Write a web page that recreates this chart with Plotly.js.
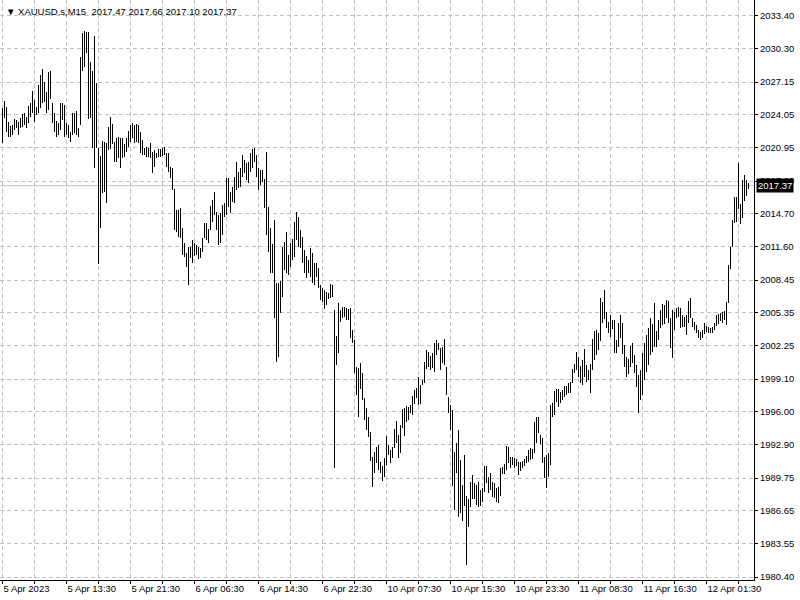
<!DOCTYPE html>
<html>
<head>
<meta charset="utf-8">
<script src="https://cdn.plot.ly/plotly-3.0.1.min.js"></script>
<style>html,body{margin:0;padding:0;background:#fff;}#chart{width:800px;height:600px;}</style>
</head>
<body>
<div id="chart"></div>
<script>
// ---- data (M15 bars, high / low) ----
const symbol = "XAUUSD.s";
const timeframe = "M15";
const lastOpen = 2017.47, lastHigh = 2017.66, lastLow = 2017.10, lastClose = 2017.37;

const highs = [
2024.70,2025.37,2024.80,2023.38,2023.00,2023.10,2023.66,2023.57,2023.38,2023.76,
2024.14,2024.23,2023.85,2024.89,2025.18,2026.31,2025.46,2024.80,2026.88,2027.82,
2028.39,2027.16,2026.22,2028.11,2028.20,2025.18,2024.23,2023.48,2023.29,2025.18,
2025.18,2024.99,2023.29,2023.10,2022.44,2024.23,2024.23,2024.42,2022.81,2029.52,
2031.79,2031.98,2031.89,2031.89,2029.05,2028.20,2031.51,2027.07,2020.92,2020.17,
2021.59,2021.49,2021.40,2022.91,2023.85,2023.19,2021.49,2021.87,2021.96,2021.87,
2021.87,2021.30,2021.87,2022.53,2023.10,2023.29,2023.10,2023.19,2023.10,2022.44,
2021.68,2020.92,2021.02,2020.92,2021.40,2020.55,2020.74,2020.45,2020.83,2020.83,
2020.92,2021.02,2020.45,2020.45,2019.13,2019.03,2017.05,2015.07,2015.07,2015.25,
2013.36,2011.95,2011.00,2011.57,2011.57,2012.23,2011.95,2011.76,2011.57,2011.48,
2012.42,2013.84,2013.84,2013.27,2015.44,2016.01,2016.77,2014.88,2014.59,2014.78,
2015.54,2015.73,2018.09,2018.09,2016.77,2017.24,2018.18,2019.60,2018.65,2019.03,
2020.26,2019.79,2019.51,2019.60,2020.45,2020.83,2020.92,2020.26,2019.03,2018.85,
2018.85,2018.00,2020.55,2015.35,2013.36,2011.85,2014.12,2008.17,2008.17,2008.36,
2011.57,2012.04,2012.99,2010.81,2011.95,2012.32,2013.93,2014.88,2014.40,2013.18,
2012.51,2011.28,2010.72,2010.34,2011.47,2011.00,2010.06,2010.06,2009.59,2007.98,
2007.69,2007.51,2007.32,2007.22,2008.07,2007.98,2005.62,2003.16,2006.28,2005.62,
2005.90,2005.90,2005.80,2005.71,2005.80,2003.73,2002.78,2000.23,2000.13,2000.61,
1999.66,1997.30,1996.35,1995.50,1994.09,1991.72,1992.20,1992.67,1992.86,1991.25,
1990.87,1991.63,1993.71,1992.86,1992.39,1992.67,1994.37,1995.13,1993.80,1994.75,
1996.26,1996.35,1996.54,1996.45,1996.64,1997.49,1998.06,1998.25,1999.28,1998.53,
1999.01,2000.70,2001.84,2001.65,2001.27,2001.55,2002.50,2002.78,2002.50,2002.02,
2002.12,2002.87,2000.23,1997.39,1996.64,1996.17,1992.20,1993.05,1994.27,1991.44,
1989.08,1991.91,1988.04,1987.75,1989.36,1990.02,1989.27,1989.08,1989.36,1988.61,
1988.79,1990.87,1990.87,1989.84,1990.21,1989.36,1989.27,1988.79,1988.89,1990.68,
1990.78,1991.06,1992.76,1992.67,1991.72,1991.72,1991.63,1991.53,1991.25,1991.25,
1991.35,1991.53,1991.82,1992.39,1992.57,1992.48,1995.03,1995.50,1995.50,1993.80,
1993.52,1991.72,1991.91,1992.10,1996.64,1996.83,1997.96,1998.15,1998.15,1997.87,
1998.06,1998.44,1998.44,1998.72,1998.82,2000.04,2000.51,2001.65,2001.18,2000.32,
2000.89,2001.93,2000.42,1999.94,2000.51,2002.87,2003.63,2003.73,2003.44,2006.75,
2006.37,2007.51,2005.43,2004.48,2005.14,2004.67,2004.67,2002.78,2004.39,2005.14,
2004.39,2002.31,2001.18,2000.99,2002.21,2002.50,2001.36,2000.42,1999.47,1999.94,
2001.55,2002.50,2003.25,2003.91,2004.86,2004.30,2006.28,2003.63,2004.67,2005.62,
2006.19,2006.09,2006.56,2006.47,2004.86,2005.62,2005.43,2005.80,2005.90,2005.80,
2005.14,2004.95,2005.14,2006.47,2006.75,2004.86,2004.48,2004.20,2003.73,2003.54,
2003.73,2004.39,2004.10,2004.01,2003.91,2004.01,2004.39,2005.14,2005.24,2005.33,
2005.43,2005.52,2006.37,2009.87,2011.57,2014.12,2016.29,2016.29,2019.51,2015.63,
2017.90,2018.37,2017.90,2017.66
];

const lows = [
2021.40,2023.76,2022.44,2021.96,2021.96,2022.15,2022.63,2022.81,2022.15,2022.81,
2022.91,2023.10,2022.81,2023.29,2023.85,2024.23,2023.38,2024.04,2024.23,2024.70,
2025.18,2025.27,2024.23,2024.52,2025.55,2023.29,2022.44,2021.96,2022.15,2022.63,
2023.57,2021.96,2022.15,2021.87,2021.49,2022.15,2022.34,2022.15,2021.96,2023.10,
2028.20,2028.58,2029.90,2023.66,2023.76,2020.92,2019.03,2020.92,2009.96,2013.36,
2016.67,2016.77,2015.73,2020.74,2020.83,2021.30,2019.60,2019.60,2019.98,2019.03,
2019.98,2020.07,2020.55,2021.02,2021.49,2021.87,2021.40,2021.49,2021.40,2020.45,
2020.26,2020.26,2020.07,2020.07,2019.98,2018.56,2019.13,2019.98,2020.07,2020.07,
2020.17,2020.26,2019.13,2018.65,2018.09,2016.96,2013.18,2012.99,2012.51,2012.42,
2010.81,2010.62,2009.68,2007.98,2010.53,2010.06,2010.72,2010.81,2010.43,2010.53,
2011.10,2012.42,2012.23,2011.95,2013.18,2013.93,2014.59,2013.18,2011.76,2011.95,
2012.70,2014.40,2014.59,2015.35,2014.78,2015.82,2015.73,2016.96,2017.14,2017.24,
2018.18,2018.56,2017.90,2017.62,2018.65,2019.03,2019.60,2018.18,2016.96,2017.43,
2017.71,2015.25,2012.70,2011.10,2009.11,2009.11,2004.86,2000.70,2001.18,2005.33,
2006.84,2009.40,2009.11,2008.92,2009.68,2010.34,2010.62,2012.23,2011.57,2011.47,
2010.06,2009.11,2008.64,2009.11,2008.73,2008.17,2007.98,2008.73,2007.69,2006.56,
2006.37,2005.71,2006.09,2006.66,2006.75,2006.84,1990.68,2000.42,2001.55,2004.48,
2004.86,2004.95,2004.67,2004.67,2002.97,2002.50,1999.66,1997.58,1995.50,1998.15,
1997.11,1995.22,1994.27,1993.61,1991.35,1988.89,1990.21,1991.16,1990.50,1990.21,
1989.46,1989.84,1990.97,1991.91,1991.16,1991.63,1992.57,1993.05,1991.63,1992.10,
1994.46,1993.71,1995.03,1995.22,1995.88,1995.69,1996.73,1997.30,1996.64,1996.73,
1998.53,1998.72,2000.04,2000.23,1999.94,2000.13,1999.75,2001.36,2001.84,1999.94,
2000.61,2000.42,1997.58,1995.88,1994.27,1988.98,1986.72,1990.21,1986.05,1986.43,
1985.68,1987.09,1981.52,1985.11,1987.00,1987.75,1987.75,1987.19,1987.00,1987.09,
1987.47,1988.42,1989.27,1988.32,1988.61,1987.94,1987.85,1987.47,1987.38,1988.04,
1990.12,1990.12,1990.50,1991.16,1990.68,1990.97,1990.68,1990.87,1990.02,1990.40,
1990.68,1990.87,1991.16,1991.25,1991.44,1991.53,1992.10,1993.05,1993.99,1992.95,
1991.16,1989.74,1988.79,1989.84,1990.97,1995.50,1995.69,1996.92,1996.45,1996.83,
1997.11,1997.39,1997.58,1997.77,1997.77,1998.72,1999.66,1999.94,1999.28,1998.72,
1998.53,1999.28,1998.82,1999.01,1997.77,1999.94,2000.89,2001.36,2001.84,2002.69,
2004.39,2004.77,2003.91,2003.44,2003.06,2003.82,2001.55,2001.55,2002.12,2002.97,
2001.46,2000.23,1999.28,1999.57,2000.23,2000.61,1999.66,1998.34,1995.88,1997.11,
1997.58,1999.01,1999.75,2000.42,2001.36,2001.65,2002.12,2002.12,2002.78,2003.91,
2004.20,2004.30,2004.86,2004.39,2002.02,2001.08,2003.73,2004.86,2004.95,2003.91,
2004.01,2004.01,2003.25,2004.39,2004.86,2004.01,2003.73,2003.44,2002.97,2002.78,
2002.97,2003.35,2003.54,2003.44,2003.44,2003.44,2003.73,2004.10,2004.30,2004.58,
2004.39,2004.67,2004.20,2006.28,2009.49,2011.57,2013.84,2013.93,2015.16,2013.74,
2014.31,2015.92,2016.39,2017.10
];

const xTickLabels = ["5 Apr 2023","5 Apr 13:30","5 Apr 21:30","6 Apr 06:30","6 Apr 14:30","6 Apr 22:30",
  "10 Apr 07:30","10 Apr 15:30","10 Apr 23:30","11 Apr 08:30","11 Apr 16:30","12 Apr 01:30"];
const yTickLabels = ["1980.40","1983.55","1986.65","1989.75","1992.90","1996.00","1999.10","2002.25",
  "2005.35","2008.45","2011.60","2014.70","2017.80","2020.95","2024.05","2027.15","2030.30","2033.40"];
const barsPerLabel = 32;
const barsPerGrid = 16;

// ---- build ----
const n = highs.length;
const idx = highs.map((_, i) => i);
const ranges = highs.map((h, i) => h - lows[i]);

const gxVals = [], gxText = [];
for (let i = 0; i < n; i += barsPerGrid) {
  gxVals.push(i);
  gxText.push(i % barsPerLabel === 0 ? xTickLabels[i / barsPerLabel] : "");
}
const yVals = yTickLabels.map(Number);

const gridColor = "#c0c0c0";
const font = {family: "Liberation Sans, Arial, sans-serif", size: 9.5, color: "#000"};

const traces = [{
  type: "bar",
  x: idx,
  y: ranges,
  base: lows,
  width: 0.5,
  marker: {color: "#000", line: {width: 0}},
  hoverinfo: "skip"
}];

const layout = {
  width: 800, height: 600,
  margin: {l: 0, r: 46, t: 0, b: 20, pad: 0},
  paper_bgcolor: "#fff", plot_bgcolor: "#fff",
  showlegend: false,
  bargap: 0,
  font: font,
  xaxis: {
    range: [-1.25, 375.75],
    tickmode: "array", tickvals: gxVals, ticktext: gxText,
    ticklabelposition: "outside right",
    ticks: "outside", ticklen: 3, tickcolor: "#000", tickwidth: 1,
    showgrid: true, gridcolor: gridColor, griddash: "4px,3px", gridwidth: 1,
    showline: true, linecolor: "#000", linewidth: 1,
    zeroline: false, fixedrange: true,
    tickfont: font
  },
  yaxis: {
    side: "right",
    range: [1980.12, 2034.91],
    tickmode: "array", tickvals: yVals, ticktext: yTickLabels,
    ticks: "outside", ticklen: 3, tickcolor: "#000", tickwidth: 1,
    showgrid: true, gridcolor: gridColor, griddash: "4px,3px", gridwidth: 1,
    showline: true, linecolor: "#000", linewidth: 1,
    zeroline: false, fixedrange: true,
    tickfont: font
  },
  shapes: [{
    type: "line", xref: "paper", x0: 0, x1: 1, yref: "y", y0: lastClose, y1: lastClose,
    line: {color: "#c0c0c0", width: 1}, layer: "below"
  }],
  annotations: [{
    xref: "paper", yref: "paper", x: 0, y: 1, xanchor: "left", yanchor: "top",
    xshift: 4, yshift: -4,
    text: "\u25BC\u00a0" + symbol + "," + timeframe + "\u00a0\u00a0" +
          [lastOpen, lastHigh, lastLow, lastClose].map(v => v.toFixed(2)).join(" "),
    showarrow: false, font: font, align: "left"
  }, {
    xref: "paper", yref: "y", x: 1, y: lastClose, xanchor: "left", yanchor: "middle",
    xshift: 2,
    text: lastClose.toFixed(2), showarrow: false,
    bgcolor: "#000", borderpad: 1,
    font: {family: font.family, size: font.size, color: "#fff"}
  }]
};

Plotly.newPlot("chart", traces, layout, {staticPlot: true, displayModeBar: false});
</script>
</body>
</html>
